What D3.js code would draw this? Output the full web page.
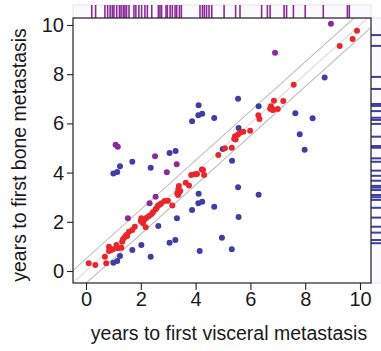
<!DOCTYPE html>
<html>
<head>
<meta charset="utf-8">
<script src="https://cdn.jsdelivr.net/npm/d3@7"></script>
<style>
  html, body { margin: 0; padding: 0; background: #fff; }
  svg { display: block; font-family: "Liberation Sans", Arial, Helvetica, sans-serif; }
</style>
</head>
<body>
<svg id="chart" width="381" height="351"></svg>
<script>
// Years to first visceral (x) vs first bone (y) metastasis
const redX = [0.10,0.34,0.69,0.74,0.84,0.92,0.84,0.99,1.11,1.17,1.29,
  1.32,1.35,1.41,1.47,1.50,1.57,1.69,1.78,
  2.00,2.02,2.08,2.12,2.18,2.20,2.30,
  2.40,2.45,2.54,2.58,2.63,2.70,2.75,2.87,2.99,3.15,
  3.33,3.36,3.37,3.39,3.39,3.44,3.64,3.76,
  3.84,3.97,4.05,4.23,4.27,4.31,
  4.83,5.07,5.32,
  5.41,5.44,5.46,5.54,5.62,5.74,5.99,
  6.29,6.33,
  6.72,6.75,6.81,6.84,6.86,7.00,7.20,
  7.58,9.26,9.73,9.89];
const redY = [0.31,0.24,0.58,0.31,0.81,0.85,0.99,0.88,1.06,0.92,0.95,
  1.19,1.29,1.37,1.46,1.42,1.60,1.67,1.80,
  2.03,2.14,1.94,2.07,1.78,2.15,2.24,
  2.32,2.40,2.51,2.56,2.66,2.70,2.75,2.85,2.86,2.66,
  3.16,3.09,3.32,3.46,3.18,3.25,3.59,3.48,
  3.90,3.93,3.94,4.13,4.11,3.90,
  4.72,4.99,5.01,
  5.38,5.48,5.35,5.54,5.62,5.66,5.70,
  6.33,6.18,
  6.60,6.70,6.54,6.56,6.92,6.59,6.91,
  7.57,9.15,9.43,9.77];

const blueX = [1.00,1.14,1.24,1.69,2.02,2.36,2.64,3.05,3.26,3.32,3.87,4.10,4.24,4.68,
  4.11,4.15,4.96,5.32,5.57,5.55,6.30,5.33,4.99,5.57,7.80,7.98,7.64,8.27,8.71,
  5.55,6.30,4.11,4.10,4.24,3.87,4.68,3.05,3.27,1.69,1.24,1.00,1.14,2.36];
const blueY = [0.34,0.41,0.61,0.85,1.06,0.58,1.83,1.15,1.26,2.14,2.48,2.75,2.82,2.61,
  3.14,0.81,1.35,0.88,2.20,3.40,3.10,4.48,4.96,5.81,5.56,4.93,6.41,6.21,7.87,
  7.00,6.70,6.74,6.33,6.39,6.09,6.22,4.80,4.88,4.44,4.26,3.96,4.02,4.20];

const purpleX = [1.08,1.16,2.52,3.31,2.95,2.54,2.32,1.53,8.94,6.90];
const purpleY = [5.13,5.05,4.66,4.34,4.01,3.02,2.75,2.14,10.05,8.87];

// marginal rugs: visceral times along the top, bone times along the right
const topRug = [0.21,0.35,0.69,0.79,0.88,0.96,1.02,1.12,1.22,1.28,1.36,1.42,1.48,1.57,
  1.75,1.82,1.93,2.03,2.15,2.24,2.40,2.64,2.70,2.76,2.92,2.97,3.07,3.15,3.25,3.31,
  3.41,3.48,4.16,4.25,4.32,4.40,4.49,4.59,5.04,5.46,5.62,6.41,6.62,6.72,7.23,7.32,
  7.57,8.00,8.66,9.54,9.61];
const rightRug = [9.59,9.15,7.89,7.40,6.79,6.71,6.50,6.23,6.14,5.98,5.46,5.08,5.01,
  4.58,4.44,4.08,3.87,3.67,3.46,3.39,3.29,3.09,3.00,2.89,2.57,2.17,1.80,1.56,1.26,1.13];

const xTicks = [0,2,4,6,8,10];
const yTicks = [0,2,4,6,8,10];
const bandOffsets = [-0.5, 0, 0.5];

const svg = d3.select("#chart");
const box = {left: 73, right: 371, top: 18, bottom: 283};

const x = d3.scaleLinear().domain([0, 10]).range([86, 360]);
const y = d3.scaleLinear().domain([0, 10]).range([271, 25]);

const red = "#e8262b", blue = "#3f3fa3", purple = "#8b2a98";

// rug strips
svg.append("rect").attr("x", box.left).attr("y", 5).attr("width", box.right - box.left).attr("height", box.top - 5)
  .attr("fill", "#fbfbfd").attr("stroke", "#e6e6ec").attr("stroke-width", 1);
svg.append("rect").attr("x", box.right).attr("y", box.top).attr("width", 12).attr("height", box.bottom - box.top)
  .attr("fill", "#fbfbfd").attr("stroke", "#e6e6ec").attr("stroke-width", 1);

svg.append("g").selectAll("line").data(topRug).join("line")
  .attr("x1", d => x(d)).attr("x2", d => x(d))
  .attr("y1", 5).attr("y2", box.top)
  .attr("stroke", purple).attr("stroke-width", 1.6);

svg.append("g").selectAll("line").data(rightRug).join("line")
  .attr("x1", box.right).attr("x2", 381)
  .attr("y1", d => y(d)).attr("y2", d => y(d))
  .attr("stroke", blue).attr("stroke-width", 2);

// plot clip
svg.append("clipPath").attr("id", "plotclip").append("rect")
  .attr("x", box.left).attr("y", box.top).attr("width", box.right - box.left).attr("height", box.bottom - box.top);

const plot = svg.append("g").attr("clip-path", "url(#plotclip)");

// identity line and +/- half-year band
plot.selectAll("line.band").data(bandOffsets).join("line")
  .attr("class", "band")
  .attr("x1", d => x(-2)).attr("y1", d => y(-2 + d))
  .attr("x2", d => x(12)).attr("y2", d => y(12 + d))
  .attr("stroke", d => d === 0 ? "#dcdcdc" : "#bdbdbd")
  .attr("stroke-width", 1.1);

function dots(xs, ys, color) {
  plot.append("g").selectAll("circle").data(xs.map((v, i) => [v, ys[i]])).join("circle")
    .attr("cx", d => x(d[0])).attr("cy", d => y(d[1])).attr("r", 3)
    .attr("fill", color);
}
dots(blueX, blueY, blue);
dots(purpleX, purpleY, purple);
dots(redX, redY, red);

// frame
svg.append("rect").attr("x", box.left).attr("y", box.top)
  .attr("width", box.right - box.left).attr("height", box.bottom - box.top)
  .attr("fill", "none").attr("stroke", "#222").attr("stroke-width", 1.2);

// axes
const xAxis = d3.axisBottom(x).tickValues(xTicks).tickSize(7).tickPadding(2).tickFormat(d3.format("d"));
const yAxis = d3.axisLeft(y).tickValues(yTicks).tickSize(6).tickPadding(3).tickFormat(d3.format("d"));

const gx = svg.append("g").attr("transform", `translate(0,${box.bottom})`).call(xAxis);
const gy = svg.append("g").attr("transform", `translate(${box.left},0)`).call(yAxis);
[gx, gy].forEach(g => {
  g.select(".domain").remove();
  g.selectAll(".tick line").attr("stroke", "#222").attr("stroke-width", 1.1);
  g.selectAll(".tick text").attr("fill", "#1a1a1a").style("font-size", "20px")
    .style("font-family", "'Liberation Sans', Arial, sans-serif");
});

// axis titles
svg.append("text").attr("x", 229).attr("y", 340).attr("text-anchor", "middle")
  .attr("fill", "#1a1a1a").style("font-size", "19.5px")
  .text("years to first visceral metastasis");
svg.append("text").attr("transform", "translate(26,155) rotate(-90)").attr("text-anchor", "middle")
  .attr("fill", "#1a1a1a").style("font-size", "19.5px")
  .text("years to first bone metastasis");
</script>
</body>
</html>
